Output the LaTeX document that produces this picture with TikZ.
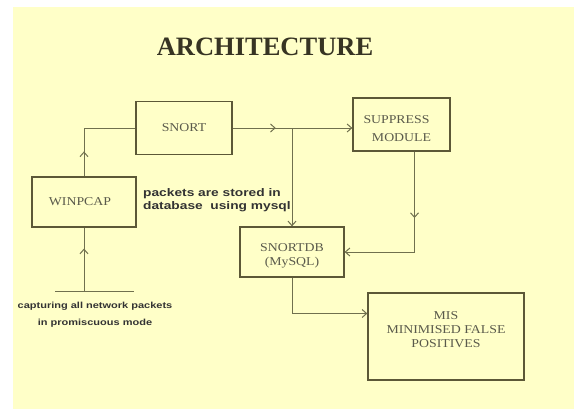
\documentclass[tikz,border=0pt]{standalone}
\usepackage{fontspec}
\setmainfont{Liberation Serif}
\setsansfont{Liberation Sans}
\newfontfamily\boxfont{Liberation Serif}[FakeStretch=1.15]
\newfontfamily\notefont{Liberation Sans}[FakeStretch=1.25]
\usepackage{tikz}
\usetikzlibrary{arrows.meta,decorations.markings,calc}
\definecolor{paper}{RGB}{255,255,200}
\definecolor{boxline}{RGB}{92,88,55}
\definecolor{wire}{RGB}{112,112,78}
\definecolor{boxtext}{RGB}{90,90,75}
\definecolor{titletext}{RGB}{55,52,35}

\begin{document}
\begin{tikzpicture}[x=1pt,y=-1pt]
\tikzstyle{blk}=[rectangle, draw=boxline, line width=1.3pt, align=center, text=boxtext, font=\boxfont\fontsize{12}{14}\selectfont]
\tikzstyle{wirestyle}=[draw=wire, line width=1pt]
\tikzstyle{tip}=[-{Straight Barb[length=4.5pt,width=8pt]}]
\tikzstyle{midarrow}=[postaction={decorate}, decoration={markings, mark=at position #1 with {\arrow[wire]{Straight Barb[length=4.5pt,width=8pt]}}}]
\tikzstyle{note}=[inner sep=0pt, text=black!80, align=left]

  \useasboundingbox (0,0) rectangle (574,410);
  \fill[white] (0,0) rectangle (574,410);
  \fill[paper] (13,7) rectangle (574,409);

  \node[text=titletext] (title) at (265,47) {\fontsize{26.5}{30}\selectfont\bfseries ARCHITECTURE};

  \node[blk, minimum width=96, minimum height=53] (snort)    at (184,128)   {SNORT};
  \node[blk, minimum width=104, minimum height=50] (winpcap)  at (84,202)    {\hspace*{-8pt}WINPCAP};
  \node[blk, minimum width=97, minimum height=53] (suppress) at (401.5,124.5) {\rule{0pt}{16.5pt}\hspace*{-10pt}SUPPRESS\\[4pt]MODULE};
  \node[blk, minimum width=104, minimum height=50] (snortdb)  at (292,252)   {\rule{0pt}{16pt}SNORTDB\\(MySQL)};
  \node[blk, minimum width=156, minimum height=87] (mis)      at (446,336.5) {MIS\\MINIMISED FALSE\\POSITIVES\\[-1pt]\mbox{}};

  \coordinate (capture) at (84,291);
  \coordinate (capl) at (55,291);
  \coordinate (capr) at (134,291);
  \coordinate (suppout) at ($(suppress.south)+(13,0)$);
  \coordinate (misin) at ($(mis.west)+(0,-23)$);

  % connectors
  \draw[wirestyle, midarrow=0.67] (capture) -- (winpcap.south);
  \draw[wirestyle] (capl) -- (capr);
  \draw[wirestyle, midarrow=0.25] (winpcap.north) |- (snort.west);
  \draw[wirestyle, tip, midarrow=0.36] (snort.east) -- (snort.east -| suppress.west);
  \draw[wirestyle, tip] (snort.east -| snortdb.north) -- (snortdb.north);
  \draw[wirestyle, tip, midarrow=0.39] (suppout) |- (snortdb.east);
  \draw[wirestyle, tip] (snortdb.south) |- (misin);

  \node[note, anchor=north west, font=\notefont\bfseries\fontsize{11}{13.5}\selectfont] (stored) at (143,188) {packets are stored in\\database\ \ using mysql};
  \node[note, align=center, anchor=north, font=\notefont\bfseries\fontsize{8.8}{16.5}\selectfont] (capnote) at (95,302) {capturing all network packets\\in promiscuous mode};

\end{tikzpicture}
\end{document}
